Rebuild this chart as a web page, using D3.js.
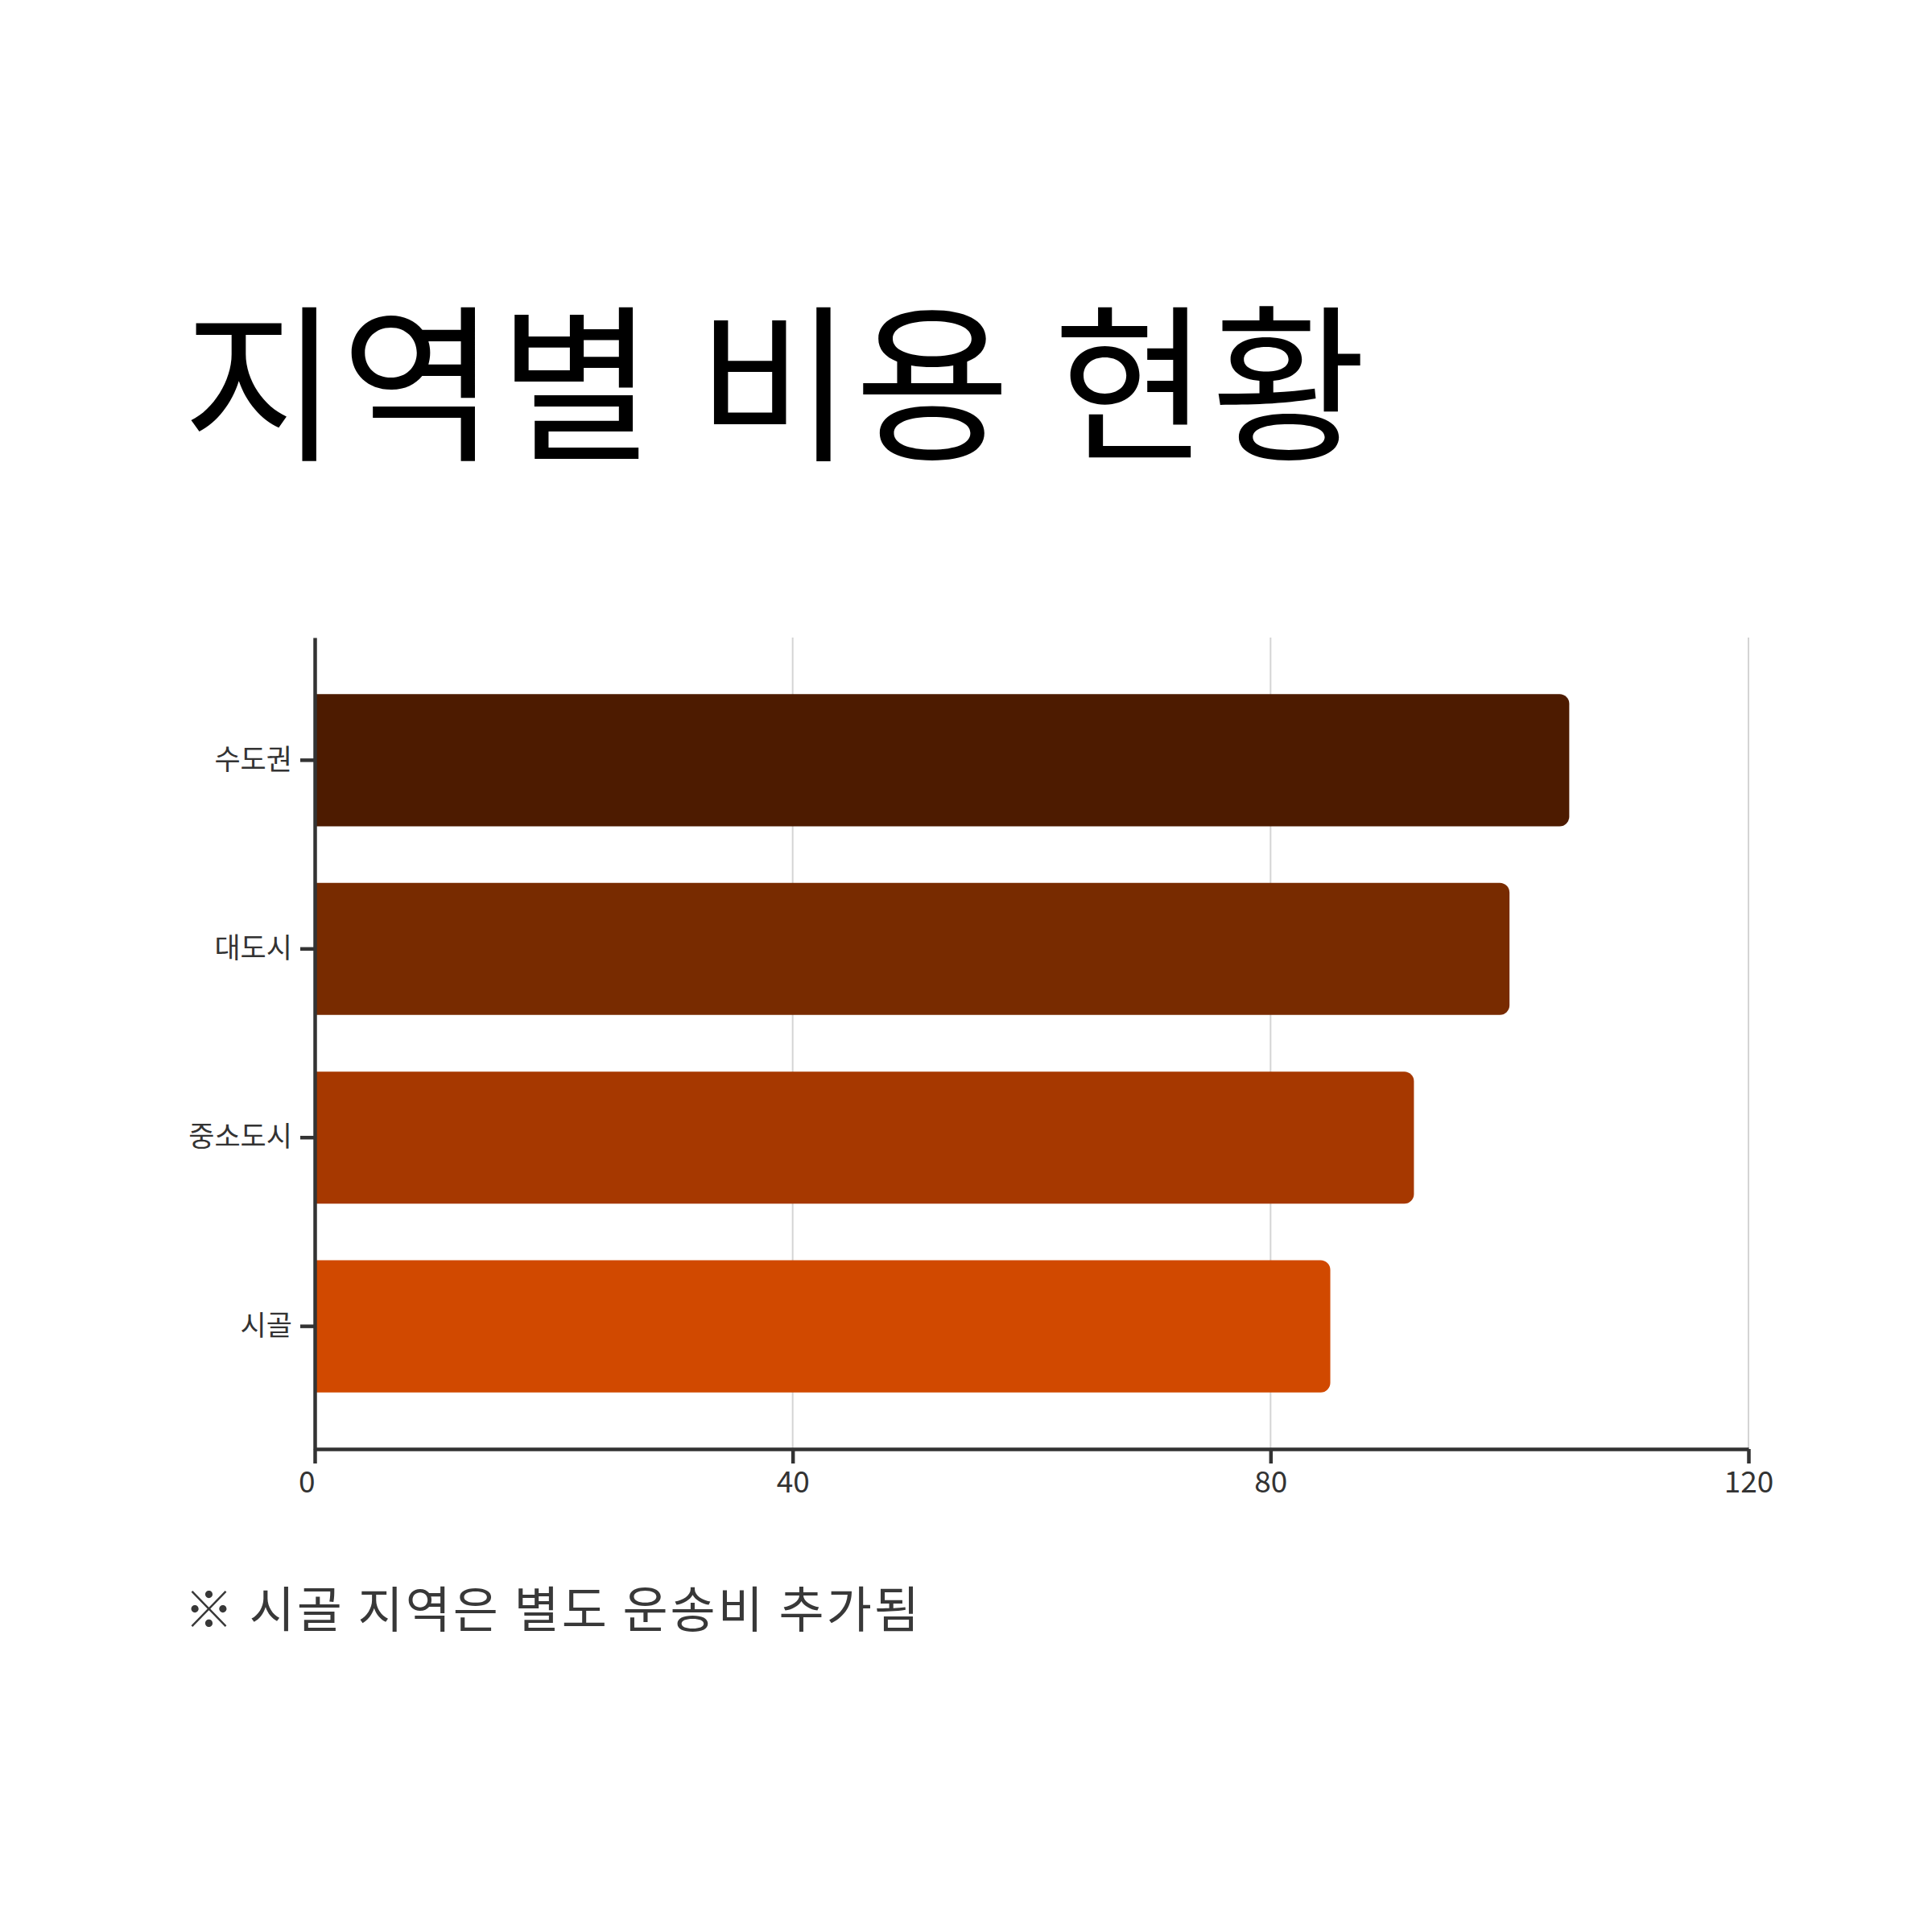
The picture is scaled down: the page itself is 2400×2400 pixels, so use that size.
<!DOCTYPE html>
<html>
<head>
<meta charset="utf-8">
<script src="https://cdn.jsdelivr.net/npm/d3@7"></script>
<style>
  body { margin: 0; background: #fff; }
  svg { display: block; font-family: "Noto Sans CJK KR", "Noto Sans", sans-serif; }
</style>
</head>
<body>
<div id="chart"></div>
<script>
const regions = ["수도권", "대도시", "중소도시", "시골"];
const costs = [105, 100, 92, 85];
const barColors = ["#4d1b00", "#782b00", "#a63800", "#d14900"];
const xTicks = [0, 40, 80, 120];
const titleText = "지역별 비용 현황";
const noteText = "※ 시골 지역은 별도 운송비 추가됨";

const W = 2400, H = 2400;
const PLOT = {LEFT: 391, RIGHT: 2172, TOP: 792, BOTTOM: 1800};
const RADIUS = 12;

const svg = d3.select("#chart").append("svg")
  .attr("width", W)
  .attr("height", H);

svg.append("rect").attr("width", W).attr("height", H).attr("fill", "#fff");

// title
svg.append("text")
  .attr("x", 227)
  .attr("y", 556)
  .attr("font-size", 210)
  .attr("font-weight", 400)
  .attr("letter-spacing", 3)
  .attr("fill", "#000")
  .text(titleText);

const x = d3.scaleLinear()
  .domain([0, 120])
  .range([PLOT.LEFT, PLOT.RIGHT]);

const y = d3.scaleBand()
  .domain(regions)
  .range([PLOT.TOP, PLOT.BOTTOM])
  .padding(0.3);

// gridlines
svg.append("g")
  .selectAll("line")
  .data(xTicks.filter(d => d > 0))
  .join("line")
    .attr("x1", d => x(d))
    .attr("x2", d => x(d))
    .attr("y1", PLOT.TOP)
    .attr("y2", PLOT.BOTTOM)
    .attr("stroke", "#d4d4d4")
    .attr("stroke-width", 2);

// bars, flat on the left, rounded on the right
function barPath(d, i) {
  const x0 = x(0), x1 = x(d), y0 = y(regions[i]), h = y.bandwidth();
  const r = Math.min(RADIUS, (x1 - x0) / 2);
  const p = d3.path();
  p.moveTo(x0, y0);
  p.lineTo(x1 - r, y0);
  p.arcTo(x1, y0, x1, y0 + r, r);
  p.lineTo(x1, y0 + h - r);
  p.arcTo(x1, y0 + h, x1 - r, y0 + h, r);
  p.lineTo(x0, y0 + h);
  p.closePath();
  return p.toString();
}

svg.append("g")
  .selectAll("path")
  .data(costs)
  .join("path")
    .attr("d", barPath)
    .attr("fill", (d, i) => barColors[i]);

// x axis
const xAxisGroup = svg.append("g")
  .attr("transform", `translate(0,${PLOT.BOTTOM})`)
  .call(d3.axisBottom(x).tickValues(xTicks).tickSize(18).tickPadding(10).tickSizeOuter(0));

// y axis
const yAxisGroup = svg.append("g")
  .attr("transform", `translate(${PLOT.LEFT},0)`)
  .call(d3.axisLeft(y).tickSize(18).tickPadding(10).tickSizeOuter(0));

[xAxisGroup, yAxisGroup].forEach(g => {
  g.select(".domain").attr("stroke", "#333").attr("stroke-width", 4.5);
  g.selectAll(".tick line").attr("stroke", "#333").attr("stroke-width", 4.5);
  g.selectAll(".tick text")
    .attr("fill", "#333")
    .style("font-family", "\"Noto Sans CJK KR\", sans-serif");
});

xAxisGroup.selectAll(".tick text").attr("font-size", 37).attr("font-weight", 400);
xAxisGroup.selectAll(".tick text").filter(d => d === 0).attr("text-anchor", "end").attr("dx", 0);
yAxisGroup.selectAll(".tick text").attr("font-size", 35);

// footnote
svg.append("text")
  .attr("x", 229)
  .attr("y", 2022)
  .attr("font-size", 61)
  .attr("letter-spacing", 3)
  .attr("fill", "#383838")
  .text(noteText);
</script>
</body>
</html>
